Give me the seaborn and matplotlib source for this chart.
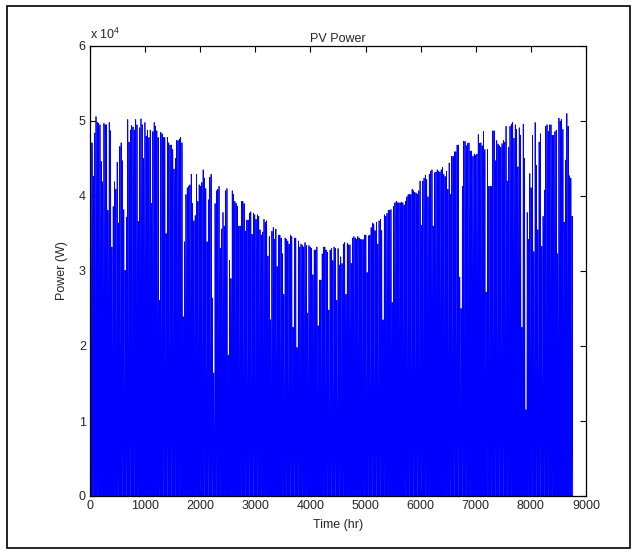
import numpy as np
import pandas as pd
import seaborn as sns
import matplotlib
matplotlib.use("Agg")
import matplotlib.pyplot as plt
from matplotlib.patches import Rectangle
from matplotlib.ticker import FuncFormatter

# Daily peak PV power (kW), day 0..364
peaks_days_000_060 = [47.1, 47.1, 42.6, 48.4, 50.6, 49.8, 49.7, 49.5, 44.6, 41.9,
                      49.7, 49.5, 49.5, 38.1, 49.8, 48.7, 33.2, 38.6, 41.9, 40.9,
                      44.5, 36.4, 46.6, 47.1, 44.7, 38.2, 30.1, 37.2, 50.2, 47.2,
                      48.8, 49.4, 49.2, 48.8, 50.2, 49.5, 36.6, 49.1, 50.3, 49.5,
                      45.0, 49.8, 48.0, 48.8, 47.8, 48.8, 39.0, 48.6, 49.8, 49.3,
                      48.7, 47.8, 26.1, 48.5, 48.3, 47.8, 47.8, 35.0, 47.8, 47.1,
                      46.8]
peaks_days_061_120 = [46.8, 46.2, 43.6, 45.0, 47.4, 47.4, 47.6, 47.8, 47.1, 23.9,
                      33.9, 40.2, 41.1, 41.3, 41.5, 42.9, 39.0, 36.7, 37.4, 42.9,
                      39.3, 41.5, 41.3, 41.8, 43.5, 42.4, 41.0, 33.9, 39.5, 42.5,
                      42.9, 26.4, 16.4, 39.0, 40.7, 40.9, 41.3, 33.0, 35.6, 37.8,
                      36.0, 40.7, 41.0, 18.8, 31.4, 29.0, 40.7, 40.2, 39.3, 39.0,
                      38.6, 36.0, 36.0, 39.3, 39.3, 39.0, 35.3, 36.8, 36.8, 37.7]
peaks_days_121_181 = [37.9, 34.9, 37.7, 37.5, 36.9, 37.5, 37.3, 35.5, 34.8, 35.2,
                      36.9, 36.5, 36.7, 32.0, 34.6, 23.5, 35.3, 35.8, 34.2, 35.6,
                      30.6, 34.8, 34.8, 34.4, 32.3, 26.9, 34.4, 34.2, 34.0, 33.6,
                      34.8, 34.6, 22.5, 34.4, 34.4, 19.8, 34.0, 33.2, 33.6, 33.4,
                      33.2, 33.8, 33.4, 24.4, 33.4, 33.2, 33.0, 29.5, 32.8, 32.8,
                      33.2, 22.7, 28.8, 28.8, 32.3, 33.2, 33.2, 32.8, 32.5, 24.8,
                      32.8]
peaks_days_182_242 = [33.0, 31.4, 33.2, 33.0, 26.1, 33.0, 30.8, 31.9, 31.0, 33.6,
                      33.8, 26.9, 33.7, 33.5, 33.5, 31.0, 34.4, 34.6, 34.4, 34.2,
                      34.6, 34.4, 34.2, 34.2, 34.2, 34.8, 34.8, 29.8, 34.7, 34.8,
                      35.8, 36.4, 36.3, 35.4, 36.5, 33.6, 36.7, 36.9, 35.4, 23.5,
                      37.5, 37.3, 37.7, 38.1, 38.1, 38.2, 25.8, 38.6, 39.1, 39.3,
                      39.1, 39.1, 39.1, 39.2, 39.1, 38.8, 39.3, 39.9, 40.2, 40.2,
                      40.2]
peaks_days_243_303 = [40.9, 40.7, 40.5, 40.4, 40.2, 40.7, 42.0, 36.1, 42.0, 42.4,
                      42.8, 42.2, 39.9, 42.9, 43.3, 43.5, 36.0, 43.1, 43.2, 43.5,
                      43.3, 43.2, 43.5, 43.8, 42.9, 42.6, 43.3, 40.9, 44.4, 40.2,
                      45.3, 45.3, 45.9, 45.9, 46.8, 46.8, 29.2, 25.0, 41.3, 47.3,
                      47.3, 46.7, 47.0, 47.1, 46.0, 46.0, 45.3, 45.6, 45.4, 45.6,
                      48.2, 47.0, 47.1, 46.7, 48.6, 46.2, 27.2, 46.2, 41.3, 41.3,
                      41.3]
peaks_days_304_364 = [48.7, 48.7, 44.7, 47.4, 46.9, 46.7, 46.5, 47.0, 47.4, 47.2,
                      49.3, 42.0, 46.5, 49.3, 49.6, 49.8, 47.7, 49.5, 48.9, 43.9,
                      49.1, 48.1, 22.5, 49.6, 45.0, 11.5, 37.8, 34.2, 43.0, 41.1,
                      48.1, 32.6, 49.8, 44.1, 35.5, 47.2, 48.3, 33.3, 37.3, 40.8,
                      49.3, 49.5, 48.6, 49.5, 49.5, 48.1, 48.1, 48.6, 48.8, 32.3,
                      50.4, 50.0, 50.2, 48.9, 36.5, 44.8, 51.0, 49.3, 42.7, 42.4,
                      37.3]

# Typical normalised hourly shape of a day (hour 0..23)
hourly_shape = [0, 0, 0, 0, 0, 0, 0.05, 0.2, 0.42, 0.64, 0.83, 0.96,
                1.0, 0.96, 0.83, 0.64, 0.42, 0.2, 0.05, 0, 0, 0, 0, 0]

daily_peaks_kw = np.array(peaks_days_000_060 + peaks_days_061_120 + peaks_days_121_181
                          + peaks_days_182_242 + peaks_days_243_303 + peaks_days_304_364)
power_w = (daily_peaks_kw[:, None] * np.array(hourly_shape)[None, :]).ravel() * 1000.0
hours = np.arange(1, power_w.size + 1)
df = pd.DataFrame({"Time (hr)": hours, "Power (W)": power_w})

sns.set_style("white")
plt.rcParams["font.family"] = ["Liberation Sans", "DejaVu Sans"]
plt.rcParams["mathtext.fontset"] = "custom"
plt.rcParams["mathtext.rm"] = "Liberation Sans"
plt.rcParams["mathtext.it"] = "Liberation Sans"

fig = plt.figure(figsize=(6.37, 5.57), dpi=100)
fig.patch.set_facecolor("white")
ax = fig.add_axes([90 / 637, 1 - 496 / 557, 496 / 637, 450 / 557])

sns.lineplot(data=df, x="Time (hr)", y="Power (W)", ax=ax, color="#0000ff",
             linewidth=0.55, estimator=None, sort=False, antialiased=True)

ax.set_xlim(0, 9000)
ax.set_ylim(0, 60000)
ax.set_xticks(np.arange(0, 9001, 1000))
ax.set_yticks(np.arange(0, 60001, 10000))
ax.yaxis.set_major_formatter(FuncFormatter(lambda v, p: f"{v / 1e4:g}"))
ax.tick_params(axis="both", direction="in", length=4.5, width=0.8, labelsize=9,
               top=True, right=True, bottom=True, left=True, color="black", pad=3)
for s in ax.spines.values():
    s.set_visible(True)
    s.set_color("black")
    s.set_linewidth(0.9)
ax.grid(False)
ax.set_xlabel("Time (hr)", fontsize=9, labelpad=5)
ax.set_ylabel("Power (W)", fontsize=9, labelpad=8)
ax.set_title("PV Power", fontsize=9, pad=3)
ax.text(0.0, 1.008, r"x 10$^{4}$", transform=ax.transAxes, fontsize=9,
        ha="left", va="bottom")

fig.patches.append(Rectangle((7 / 637, 9 / 557), 623 / 637, 542 / 557,
                             transform=fig.transFigure, fill=False,
                             edgecolor="black", linewidth=1.2))

fig.savefig("out.png", dpi=100, facecolor="white")
